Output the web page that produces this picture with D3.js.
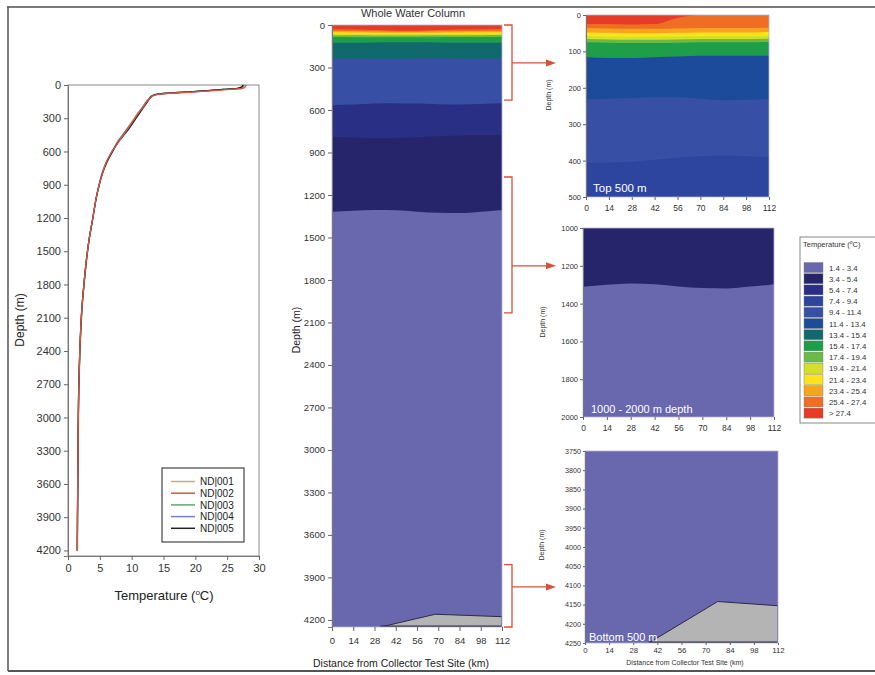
<!DOCTYPE html>
<html><head><meta charset="utf-8">
<script src="https://cdn.jsdelivr.net/npm/d3@7"></script>
<style>body{margin:0;background:#fff} text{font-family:"Liberation Sans",Arial,sans-serif}</style>
</head><body><svg id="c" width="875" height="675"></svg>
<script>
// ---------------- DATA ----------------
const castNames = ["ND|001","ND|002","ND|003","ND|004","ND|005"];
const castColors = ["#b9b47e","#d9573f","#62a874","#7282c4","#222222"];
const castDepths = [0,10,20,30,40,50,60,70,80,90,100,125,150,200,250,300,350,400,450,500,550,600,700,800,900,1000,1200,1400,1600,1800,2000,2200,2400,2700,3000,3300,3600,3900,4200];
const tempND001 = [27.6,27.5,27.3,26.6,24.3,21.9,19.6,16.7,14.3,13.5,13.1,12.7,12.3,11.7,11.0,10.4,9.8,9.2,8.6,8.0,7.4,6.9,6.0,5.4,4.9,4.5,3.9,3.3,2.9,2.55,2.25,2.05,1.9,1.75,1.66,1.6,1.56,1.52,1.49];
const tempND002 = [28.0,27.9,27.8,27.4,25.5,23.0,20.5,17.4,14.7,13.7,13.3,12.8,12.4,11.8,11.1,10.5,9.9,9.3,8.7,8.1,7.5,6.9,6.0,5.4,4.9,4.5,3.9,3.3,2.85,2.5,2.2,2.0,1.85,1.7,1.62,1.57,1.53,1.49,1.46];
const tempND003 = [27.7,27.6,27.4,26.8,24.6,22.2,19.8,16.9,14.4,13.6,13.2,12.8,12.4,11.8,11.2,10.6,10.0,9.3,8.6,8.0,7.5,7.0,6.0,5.4,4.9,4.5,3.9,3.3,2.85,2.5,2.2,2.0,1.85,1.7,1.62,1.57,1.53,1.49,1.46];
const tempND004 = [27.6,27.5,27.3,26.7,24.5,22.0,19.7,16.8,14.4,13.5,13.1,12.7,12.3,11.7,11.1,10.5,9.9,9.2,8.6,7.9,7.4,6.9,6.0,5.3,4.9,4.5,3.9,3.3,2.85,2.5,2.2,2.0,1.85,1.7,1.62,1.57,1.53,1.49,1.46];
const tempND005 = [27.5,27.4,27.2,26.6,24.4,22.0,19.6,16.8,14.4,13.6,13.2,12.8,12.5,11.9,11.3,10.7,10.1,9.5,8.8,8.1,7.5,7.0,6.1,5.4,4.9,4.5,3.9,3.3,2.85,2.5,2.2,2.0,1.85,1.7,1.62,1.57,1.53,1.49,1.46];
const profileDepthTicks = [0,300,600,900,1200,1500,1800,2100,2400,2700,3000,3300,3600,3900,4200];
const profileTempTicks = [0,5,10,15,20,25,30];

const classLabels = ["1.4 - 3.4","3.4 - 5.4","5.4 - 7.4","7.4 - 9.4","9.4 - 11.4","11.4 - 13.4","13.4 - 15.4","15.4 - 17.4","17.4 - 19.4","19.4 - 21.4","21.4 - 23.4","23.4 - 25.4","25.4 - 27.4","> 27.4"];
const classColors = ["#6967ad","#26256c","#282f84","#2e45a0","#3750a6","#1d4b9c","#106a6d","#1f9e4a","#6cb946","#d4df28","#fde31a","#f7a41e","#f06e23","#e63b26"];

const stationKm = [0,14,28,42,56,70,84,98,112];
const distanceTicks = [0,14,28,42,56,70,84,98,112];

// Whole water column: class of each band and its upper boundary depth (m) at each station
const wholeBandClass = [13,12,11,10,9,8,7,6,4,2,1,0];
const wholeBandTop = [
  [0,0,0,0,0,0,0,0,0],
  [30,32,36,40,40,36,32,30,28],
  [42,43,45,47,47,45,43,42,40],
  [52,53,54,55,55,54,53,52,51],
  [62,63,64,64,64,63,62,62,61],
  [72,73,74,74,74,73,72,72,71],
  [85,86,87,87,87,86,85,85,84],
  [125,125,123,122,122,124,126,126,125],
  [235,237,238,238,236,235,236,238,237],
  [565,562,555,552,555,560,562,558,553],
  [790,795,800,798,792,786,780,778,776],
  [1318,1312,1306,1308,1318,1326,1328,1318,1306]
];
const seafloorWholeKm = [32,68,112];
const seafloorWholeDepth = [4250,4160,4177];

// Top 500 m
const topBandClass = [13,12,11,10,9,8,7,5,4,3];
const topBandTop = [
  [0,0,0,0,0,0,0,0,0],
  [25,25,26,25,8,0,0,0,0],
  [36,37,38,38,37,36,36,36,35],
  [48,49,50,50,49,48,48,48,47],
  [58,59,60,60,59,58,58,58,57],
  [66,67,68,68,67,66,66,66,65],
  [75,76,77,77,76,75,75,75,74],
  [116,118,118,116,114,112,112,112,112],
  [232,230,228,226,226,230,234,233,230],
  [405,405,403,398,392,388,387,388,390]
];
const topTicks = [0,100,200,300,400,500];

// 1000 - 2000 m
const midBandClass = [1,0];
const midBandTop = [
  [1000,1000,1000,1000,1000,1000,1000,1000,1000],
  [1311,1300,1293,1298,1310,1318,1320,1310,1297]
];
const midTicks = [1000,1200,1400,1600,1800,2000];

// Bottom 500 m
const bottomBandClass = [0];
const bottomBandTop = [[3750,3750,3750,3750,3750,3750,3750,3750,3750]];
const seafloorBottomKm = [37,77,112];
const seafloorBottomDepth = [4250,4142,4153];
const bottomTicks = [3750,3800,3850,3900,3950,4000,4050,4100,4150,4200,4250];

// ---------------- DRAW ----------------
const svg = d3.select("#c");
const FONT = "Liberation Sans, Arial, sans-serif";
const fmt = d3.format("d");

function styleAxis(g, fs, col){
  g.selectAll("text").attr("font-size", fs).attr("fill", col||"#333").attr("font-family", FONT);
  g.selectAll("line").attr("stroke", "#666");
  g.select(".domain").attr("stroke", "#777");
}

// outer frame
svg.append("line").attr("x1",7).attr("x2",875).attr("y1",7).attr("y2",7).attr("stroke","#7a7a7a").attr("stroke-width",2);
svg.append("line").attr("x1",8).attr("x2",8).attr("y1",7).attr("y2",671).attr("stroke","#555").attr("stroke-width",1.5);
svg.append("line").attr("x1",8).attr("x2",875).attr("y1",671).attr("y2",671).attr("stroke","#555").attr("stroke-width",2);

// ---- Left: temperature profiles ----
const xP = d3.scaleLinear().domain([0,30]).range([68,259]);
const yP = d3.scaleLinear().domain([0,4250]).range([85,556]);
svg.append("rect").attr("x",68).attr("y",85).attr("width",191).attr("height",471).attr("fill","#fff").attr("stroke","#8a8a8a").attr("stroke-width",1);
const gyP = svg.append("g").attr("transform","translate(68,0)").call(d3.axisLeft(yP).tickValues(profileDepthTicks).tickFormat(fmt).tickSize(4).tickPadding(3));
styleAxis(gyP, 11);
const gxP = svg.append("g").attr("transform","translate(0,556)").call(d3.axisBottom(xP).tickValues(profileTempTicks).tickFormat(fmt).tickSize(4).tickPadding(4));
styleAxis(gxP, 11);
const casts = [tempND001,tempND002,tempND003,tempND004,tempND005];
const lineP = d3.line().x(d=>xP(d[0])).y(d=>yP(d[1])).curve(d3.curveMonotoneY);
const drawOrder = [0,2,3,4,1];
drawOrder.forEach(i=>{
  const pts = casts[i].map((t,k)=>[t,castDepths[k]]);
  svg.append("path").attr("d",lineP(pts)).attr("fill","none").attr("stroke",castColors[i]).attr("stroke-width",1.3);
});
svg.append("text").attr("transform","translate(24,320) rotate(-90)").attr("text-anchor","middle").attr("font-size",12).attr("fill","#222").text("Depth (m)");
const tt = svg.append("text").attr("x",164).attr("y",600).attr("text-anchor","middle").attr("font-size",13).attr("fill","#222");
tt.append("tspan").text("Temperature (");
tt.append("tspan").attr("font-size",8).attr("dy",-5).text("o");
tt.append("tspan").attr("dy",5).text("C)");
// legend
svg.append("rect").attr("x",162).attr("y",468).attr("width",82).attr("height",74).attr("fill","#fff").attr("stroke","#444").attr("stroke-width",1.2);
castNames.forEach((n,i)=>{
  const y = 481.5 + i*11.7;
  svg.append("line").attr("x1",171).attr("x2",195).attr("y1",y).attr("y2",y).attr("stroke",castColors[i]).attr("stroke-width",1.5);
  svg.append("text").attr("x",200).attr("y",y+3.6).attr("font-size",10).attr("fill","#222").text(n);
});

// ---- Contour panels ----
let clipId = 0;
function drawPanel(o){
  const x = d3.scaleLinear().domain([0,112]).range([o.x0,o.x1]);
  const y = d3.scaleLinear().domain(o.yDomain).range([o.y0,o.y1]);
  const id = "clip"+(clipId++);
  svg.append("clipPath").attr("id",id).append("rect").attr("x",o.x0).attr("y",o.y0).attr("width",o.x1-o.x0).attr("height",o.y1-o.y0);
  const g = svg.append("g").attr("clip-path",`url(#${id})`);
  const area = d3.area().x(d=>x(d[0])).y0(d=>y(d[1])).y1(o.y1+2).curve(d3.curveMonotoneX);
  o.bandTop.forEach((arr,i)=>{
    const pts = stationKm.map((k,j)=>[k,arr[j]]);
    g.append("path").attr("d",area(pts)).attr("fill",classColors[o.bandClass[i]]);
  });
  if(o.floorKm){
    const pts = o.floorKm.map((k,j)=>[k,o.floorDepth[j]]);
    const fa = d3.area().x(d=>x(d[0])).y0(d=>y(d[1])).y1(y(o.yDomain[1]));
    g.append("path").attr("d",fa(pts)).attr("fill","#b4b4b4").attr("stroke","#2b2b44").attr("stroke-width",1);
    g.append("line").attr("x1",x(o.floorKm[0])).attr("x2",o.x1).attr("y1",o.y1-0.8).attr("y2",o.y1-0.8).attr("stroke","#2b2b44").attr("stroke-width",1.5);
  }
  svg.append("rect").attr("x",o.x0).attr("y",o.y0).attr("width",o.x1-o.x0).attr("height",o.y1-o.y0).attr("fill","none").attr("stroke","#b4b2d0").attr("stroke-width",0.8);
  const gy = svg.append("g").attr("transform",`translate(${o.x0},0)`).call(d3.axisLeft(y).tickValues(o.yTicks).tickFormat(fmt).tickSize(o.tick).tickPadding(o.pad));
  styleAxis(gy, o.yfs);
  const gx = svg.append("g").attr("transform",`translate(0,${o.y1})`).call(d3.axisBottom(x).tickValues(distanceTicks).tickFormat(fmt).tickSize(o.tick).tickPadding(o.xpad));
  styleAxis(gx, o.xfs);
  gx.select(".domain").remove();
  return {x,y};
}

const whole = drawPanel({x0:332,x1:502,y0:25,y1:627,yDomain:[0,4250],bandTop:wholeBandTop,bandClass:wholeBandClass,
  floorKm:seafloorWholeKm,floorDepth:seafloorWholeDepth,yTicks:profileDepthTicks,tick:4,pad:3,xpad:6,yfs:9.5,xfs:9.5});
svg.append("text").attr("x",413).attr("y",17).attr("text-anchor","middle").attr("font-size",11).attr("fill","#333").text("Whole Water Column");
svg.append("text").attr("transform","translate(300,330) rotate(-90)").attr("text-anchor","middle").attr("font-size",10.5).attr("fill","#222").text("Depth (m)");
svg.append("text").attr("x",401).attr("y",667).attr("text-anchor","middle").attr("font-size",10.5).attr("fill","#222").text("Distance from Collector Test Site (km)");

drawPanel({x0:586,x1:769,y0:15,y1:197,yDomain:[0,500],bandTop:topBandTop,bandClass:topBandClass,yTicks:topTicks,tick:3,pad:2,xpad:5,yfs:7.5,xfs:8.5});
drawPanel({x0:583,x1:774,y0:228,y1:417,yDomain:[1000,2000],bandTop:midBandTop,bandClass:midBandClass,yTicks:midTicks,tick:3,pad:2,xpad:5,yfs:7.5,xfs:8.5});
drawPanel({x0:585,x1:778,y0:451,y1:643,yDomain:[3750,4250],bandTop:bottomBandTop,bandClass:bottomBandClass,
  floorKm:seafloorBottomKm,floorDepth:seafloorBottomDepth,yTicks:bottomTicks,tick:2,pad:2,xpad:2,yfs:7.2,xfs:7.8});

[[551,95],[545,322],[544,545]].forEach(p=>{
  svg.append("text").attr("transform",`translate(${p[0]},${p[1]}) rotate(-90)`).attr("text-anchor","middle").attr("font-size",7).attr("fill","#333").text("Depth (m)");
});
svg.append("text").attr("x",593).attr("y",192).attr("font-size",11.5).attr("fill","#fff").text("Top 500 m");
svg.append("text").attr("x",591).attr("y",413).attr("font-size",11).attr("fill","#fff").text("1000 - 2000 m depth");
svg.append("text").attr("x",589).attr("y",641).attr("font-size",11).attr("fill","#fff").text("Bottom 500 m");
svg.append("text").attr("x",685).attr("y",665).attr("text-anchor","middle").attr("font-size",7).attr("fill","#333").text("Distance from Collector Test Site (km)");

// brackets and arrows (depth ranges on the whole column)
const bracketDepths = [[0,530,268],[1073,2033,1700],[3810,4250,3967]];
const red = "#d8513b";
bracketDepths.forEach(b=>{
  const yt = whole.y(b[0]), yb = whole.y(b[1]), ya = whole.y(b[2]);
  svg.append("path").attr("d",`M504,${yt}H512V${yb}H504`).attr("fill","none").attr("stroke",red).attr("stroke-width",1.3);
  svg.append("line").attr("x1",512).attr("x2",548).attr("y1",ya).attr("y2",ya).attr("stroke",red).attr("stroke-width",1.3);
  svg.append("path").attr("d",`M556,${ya}L546,${ya-3.5}L546,${ya+3.5}Z`).attr("fill",red);
});

// right legend
svg.append("rect").attr("x",800).attr("y",237).attr("width",85).attr("height",186).attr("fill","#fff").attr("stroke","#888").attr("stroke-width",1);
const lt = svg.append("text").attr("x",803).attr("y",247).attr("font-size",7.5).attr("fill","#333");
lt.append("tspan").text("Temperature (");
lt.append("tspan").attr("font-size",5).attr("dy",-3).text("o");
lt.append("tspan").attr("dy",3).text("C)");
classLabels.forEach((l,i)=>{
  const y = 262.5 + i*11.2;
  svg.append("rect").attr("x",804).attr("y",y).attr("width",19).attr("height",10).attr("fill",classColors[i]).attr("stroke","#777").attr("stroke-width",0.4);
  svg.append("text").attr("x",829).attr("y",y+8).attr("font-size",7.8).attr("fill","#333").text(l);
});
</script></body></html>
